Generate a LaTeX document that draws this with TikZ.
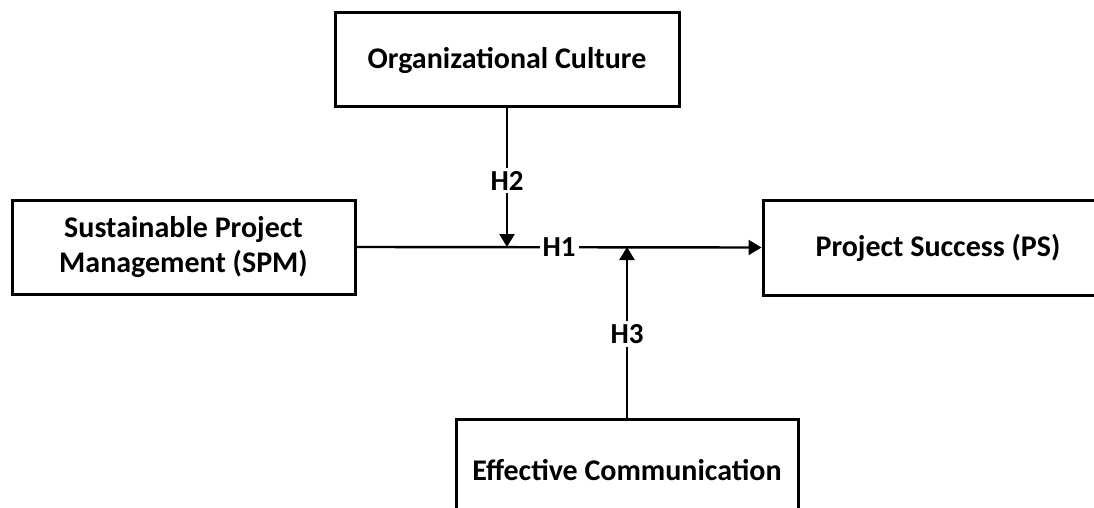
\documentclass[tikz,border=0pt]{standalone}
\usepackage{fontspec}
\setmainfont{Carlito}
\usetikzlibrary{arrows.meta}
\begin{document}
\begin{tikzpicture}[x=1pt,y=-1pt,
  box/.style={draw=black,line width=3pt,rectangle,inner sep=0pt,align=center,
    font=\fontsize{30}{35}\selectfont\bfseries},
  conn/.style={line width=2.4pt},
  arr/.style={conn,-{Triangle[length=13pt,width=15pt]}},
  hlab/.style={fill=white,inner sep=3pt,font=\fontsize{29}{32}\selectfont\bfseries}]
\clip (0,0) rectangle (1094,508);
\fill[white] (0,0) rectangle (1094,508);
\node[box,minimum width=344pt,minimum height=94pt] (oc) at (507,60) {Organizational Culture};
\node[box,minimum width=343pt,minimum height=94pt] (spm) at (183.5,247) {Sustainable Project\\Management (SPM)};
\node[box,minimum width=350pt,minimum height=95pt] (ps) at (938,247.5) {Project Success (PS)};
\node[box,minimum width=342pt,minimum height=102pt] (ec) at (627,470) {Effective Communication};
\coordinate (j2) at (507,247);
\coordinate (j3) at (627,247);
\draw[arr] (spm.east) -- node[hlab,pos=0.5] (h1) {H1} (ps.west);
\draw[arr] (oc.south) -- node[hlab,pos=0.52] (h2) {H2} (j2);
\draw[arr] (ec.north) -- node[hlab,pos=0.49] (h3) {H3} (j3);
\end{tikzpicture}
\end{document}
